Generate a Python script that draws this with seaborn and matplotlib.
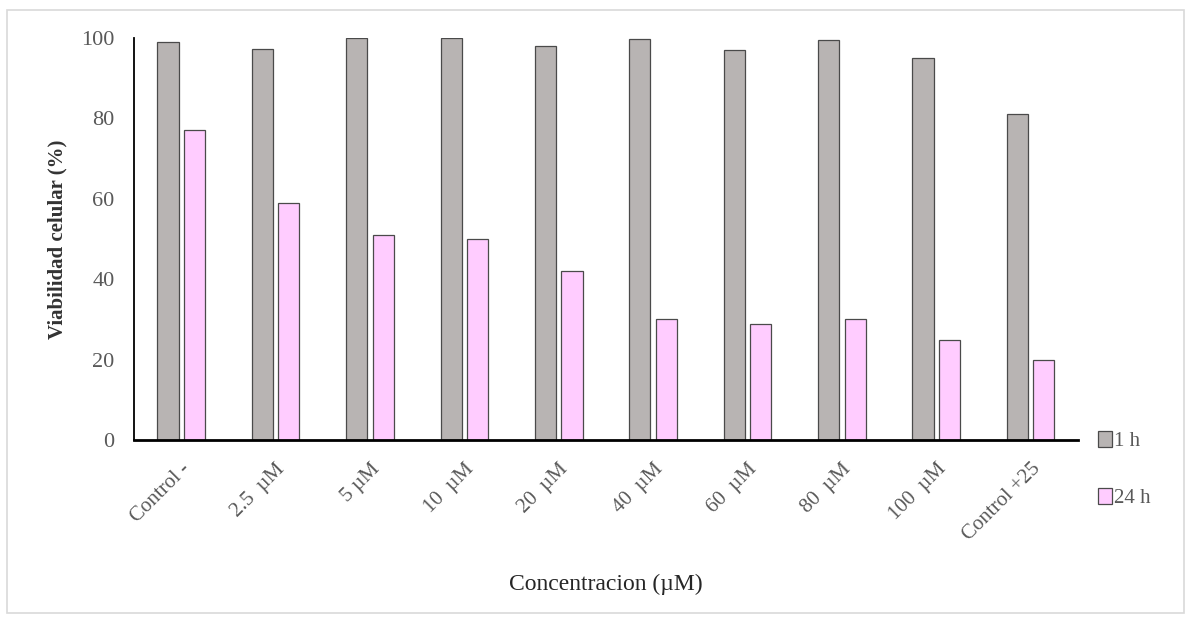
import pandas as pd
import numpy as np
import seaborn as sns
import matplotlib.pyplot as plt
from matplotlib.patches import Rectangle

# data
concentraciones = ['Control -', '2.5  µM', '5 µM', '10  µM', '20  µM',
                   '40  µM', '60  µM', '80  µM', '100  µM', 'Control +25']
viab_1h = [99, 97.3, 100, 100, 98, 99.7, 97, 99.4, 95, 81]
viab_24h = [77, 59, 51, 50, 42, 30, 29, 30, 25, 20]
tiempos = ['1 h', '24 h']
colores = ['#B8B4B3', '#FFCCFF']

df = pd.DataFrame({
    'conc': concentraciones * 2,
    'viab': viab_1h + viab_24h,
    'tiempo': [tiempos[0]] * len(concentraciones) + [tiempos[1]] * len(concentraciones),
})

sns.set_theme(style='white')
plt.rcParams['font.family'] = ['Liberation Serif', 'DejaVu Serif']

fig = plt.figure(figsize=(11.91, 6.2), dpi=100)
ax = fig.add_axes([0.1125, 0.29, 0.7925, 0.649])

sns.barplot(data=df, x='conc', y='viab', hue='tiempo', palette=colores,
            saturation=1, width=0.56, gap=0.2, edgecolor='#4a4a4a',
            linewidth=0.9, ax=ax)

ax.set_ylim(0, 100)
ax.set_yticks([0, 20, 40, 60, 80, 100])
ax.set_xlim(-0.5, len(concentraciones) - 0.5)
ax.tick_params(axis='y', length=0, pad=14, labelsize=16, labelcolor='#595959')
ax.tick_params(axis='x', length=0, pad=14, labelsize=15, labelcolor='#595959')
plt.setp(ax.get_xticklabels(), rotation=45, ha='right', rotation_mode='anchor')

for s in ['top', 'right']:
    ax.spines[s].set_visible(False)
ax.spines['left'].set_color('black')
ax.spines['left'].set_linewidth(1.3)
ax.spines['bottom'].set_color('black')
ax.spines['bottom'].set_linewidth(2)

ax.set_ylabel('Viabilidad celular (%)', fontsize=15, fontweight='bold',
              color='#333333', labelpad=10)
ax.set_xlabel('Concentracion (µM)', fontsize=17, color='#262626', labelpad=21)

leg = ax.legend(loc='center left', bbox_to_anchor=(0.906, 0.243),
                bbox_transform=fig.transFigure, frameon=False,
                fontsize=15, labelspacing=1.75, handlelength=0.7,
                handleheight=0.8, handletextpad=0.1)
for t in leg.get_texts():
    t.set_color('#595959')

# light border round the whole chart
fig.patches.append(Rectangle((0.006, 0.012), 0.988, 0.972, transform=fig.transFigure,
                             fill=False, edgecolor='#d9d9d9', linewidth=1.2))

fig.savefig('out.png', dpi=100)
